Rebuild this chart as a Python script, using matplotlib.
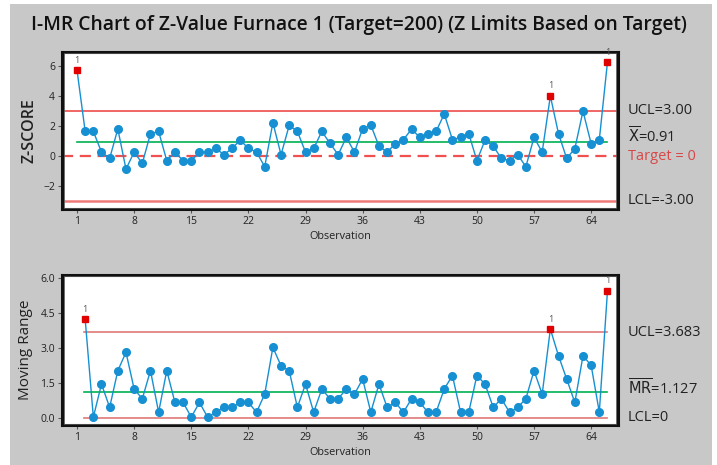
import numpy as np
import matplotlib
matplotlib.use("Agg")
import matplotlib.pyplot as plt
from matplotlib.patches import Rectangle

plt.rcParams['font.family'] = ['Open Sans', 'DejaVu Sans']

# ---------------- data ----------------
title = "I-MR Chart of Z-Value Furnace 1 (Target=200) (Z Limits Based on Target)"
obs = list(range(1, 67))
z_values = [5.70, 1.62, 1.62, 0.24, -0.18, 1.78, -0.89, 0.24, -0.51, 1.47,
            1.62, -0.33, 0.24, -0.33, -0.33, 0.24, 0.24, 0.49, 0.07, 0.49,
            1.04, 0.49, 0.24, -0.73, 2.20, 0.07, 2.02, 1.62, 0.24, 0.49,
            1.62, 0.82, 0.07, 1.22, 0.24, 1.80, 2.04, 0.64, 0.24, 0.80,
            1.07, 1.78, 1.22, 1.47, 1.62, 2.78, 1.07, 1.22, 1.47, -0.33,
            1.04, 0.64, -0.18, -0.33, 0.07, -0.73, 1.22, 0.24, 3.98, 1.47,
            -0.18, 0.47, 2.97, 0.80, 1.07, 6.24]
mr_obs = list(range(2, 67))
mr_values = [4.24, 0.03, 1.45, 0.45, 2.03, 2.82, 1.24, 0.82, 2.03, 0.24,
             2.03, 0.66, 0.66, 0.03, 0.66, 0.03, 0.24, 0.45, 0.45, 0.66,
             0.66, 0.24, 1.02, 3.03, 2.24, 2.03, 0.45, 1.45, 0.24, 1.24,
             0.82, 0.82, 1.24, 1.02, 1.67, 0.24, 1.45, 0.45, 0.66, 0.24,
             0.82, 0.66, 0.24, 0.24, 1.24, 1.82, 0.24, 0.24, 1.82, 1.45,
             0.45, 0.82, 0.24, 0.45, 0.82, 2.03, 1.02, 3.82, 2.67, 1.67,
             0.66, 2.67, 2.26, 0.24, 5.46]
i_ucl, i_mean, i_target, i_lcl = 3.00, 0.91, 0.0, -3.00
mr_ucl, mr_mean, mr_lcl = 3.683, 1.127, 0.0
x_ticks = [1, 8, 15, 22, 29, 36, 43, 50, 57, 64]
i_yticks = [-2, 0, 2, 4, 6]
mr_yticks = [0.0, 1.5, 3.0, 4.5, 6.0]

# ---------------- style ----------------
BLUE = '#1690d2'
RED_PT = '#e00000'
GREY_BG = '#c8c8c8'
TXT = '#222222'

fig = plt.figure(figsize=(7.17, 4.65), dpi=100, facecolor='white')
fig.patches.append(Rectangle((10/717, 0), 702/717, 461/465, transform=fig.transFigure,
                             facecolor=GREY_BG, edgecolor='none', zorder=-10))

fig.text(358.5/717, 1 - 25/465, title, ha='center', va='center',
         fontsize=13.9, fontweight='semibold', color='#111111')

def style_axes(ax):
    ax.set_facecolor('white')
    for s in ax.spines.values():
        s.set_linewidth(2.2)
        s.set_color('#111111')
    ax.set_xticks(x_ticks)
    ax.tick_params(axis='both', labelsize=7.5, colors='#555555', labelcolor=TXT,
                   length=3, width=0.8, direction='out', pad=2)
    ax.set_xlim(-0.84, 67.29)
    ax.set_xlabel('Observation', fontsize=7.8, color=TXT, labelpad=3)
    # inner thin frame line
    ax.add_patch(Rectangle((0.004, 0.008), 0.992, 0.984, transform=ax.transAxes,
                           fill=False, edgecolor='#555555', linewidth=0.6, zorder=5))

def plot_series(ax, x, y, ucl, lcl):
    x = np.asarray(x); y = np.asarray(y)
    ax.plot(x, y, color=BLUE, linewidth=1.0, zorder=3)
    out = (y > ucl) | (y < lcl)
    ax.plot(x[~out], y[~out], 'o', color=BLUE, markersize=5.5, zorder=4)
    ax.plot(x[out], y[out], 's', color=RED_PT, markersize=5, zorder=4)
    for xi, yi in zip(x[out], y[out]):
        ax.annotate('1', (xi, yi), xytext=(0, 4), textcoords='offset points',
                    ha='center', va='bottom', fontsize=6.5, color='#555555')

# ---- I chart ----
ax1 = fig.add_axes([62/717, 1 - 209/465, 556/717, 157/465])
style_axes(ax1)
ax1.set_ylim(-3.55, 6.91)
ax1.set_yticks(i_yticks)
ax1.axhline(i_ucl, color='#f05a5a', linewidth=1.3, zorder=2)
ax1.axhline(i_lcl, color='#f07a7a', linewidth=1.8, zorder=2)
ax1.plot([1, 66], [i_mean, i_mean], color='#00b050', linewidth=1.2, zorder=2)
ax1.axhline(i_target, color='#f05050', linewidth=1.6, linestyle=(0, (5, 3)), zorder=2)
plot_series(ax1, obs, z_values, i_ucl, i_lcl)
ax1.set_ylabel('Z-SCORE', fontsize=11.5, fontweight='semibold', color=TXT, labelpad=4)

lx = 628/717
def rlabel(ax, y, s, color=TXT):
    ax.annotate(s, xy=(lx, y), xycoords=('figure fraction', 'data'), ha='left',
                va='center', fontsize=10.5, color=color, annotation_clip=False)

rlabel(ax1, i_ucl, 'UCL=3.00')
rlabel(ax1, 1.25, r'$\overline{\mathsf{X}}$=0.91')
rlabel(ax1, i_target - 0.08, 'Target = 0', color='#d84848')
rlabel(ax1, i_lcl, 'LCL=-3.00')

# ---- MR chart ----
ax2 = fig.add_axes([62/717, 1 - 425/465, 556/717, 150/465])
style_axes(ax2)
ax2.set_ylim(-0.31, 6.15)
ax2.set_yticks(mr_yticks)
ax2.set_yticklabels([f'{v:.1f}' for v in mr_yticks])
ax2.plot([1.9, 66], [mr_ucl, mr_ucl], color='#e07878', linewidth=1.2, zorder=2)
ax2.plot([1.9, 66], [mr_lcl, mr_lcl], color='#e07878', linewidth=1.2, zorder=2)
ax2.plot([1.9, 66], [mr_mean, mr_mean], color='#00b050', linewidth=1.2, zorder=2)
plot_series(ax2, mr_obs, mr_values, mr_ucl, -1)
ax2.set_ylabel('Moving Range', fontsize=11, color=TXT, labelpad=5)

rlabel(ax2, mr_ucl, 'UCL=3.683')
rlabel(ax2, mr_mean + 0.15, r'$\overline{\mathsf{MR}}$=1.127')
rlabel(ax2, mr_lcl, 'LCL=0')

fig.savefig('out.png', dpi=100, facecolor='white')
